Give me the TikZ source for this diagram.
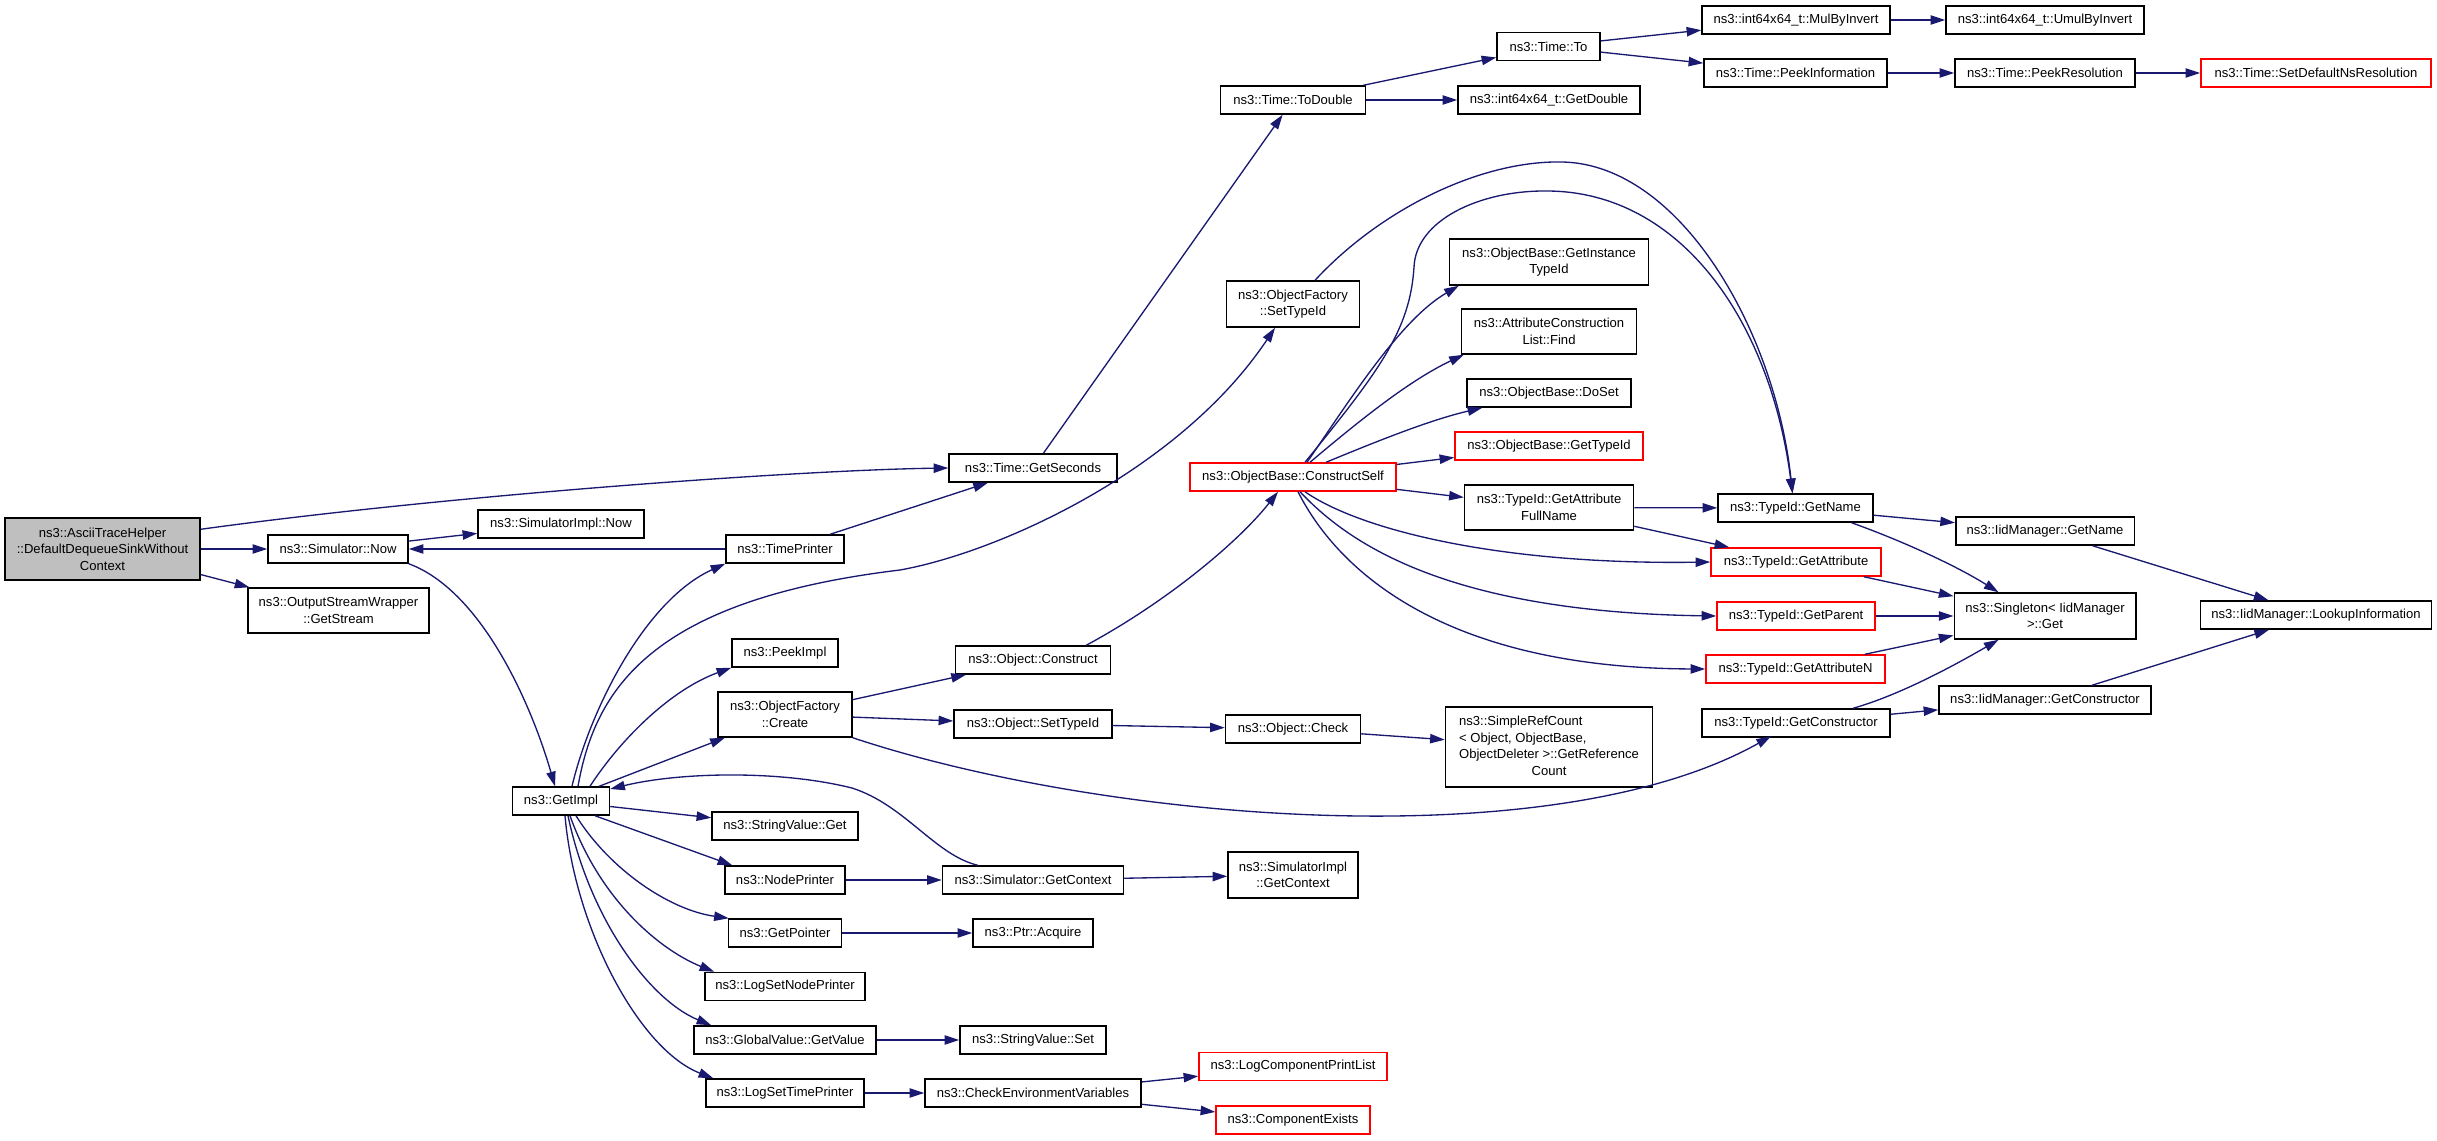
\documentclass[tikz,border=0pt]{standalone}
\usepackage{fontspec}
\setmainfont{Liberation Sans}
\usetikzlibrary{arrows.meta,calc}

\definecolor{navy}{HTML}{191970}
\definecolor{boxred}{HTML}{FF0000}
\newcommand{\fnfont}{\fontsize{9.8}{12.4}\selectfont}

\tikzstyle{func} = [shape=rectangle,draw,line width=1.1pt,inner sep=0pt,align=center,font=\fnfont]
\tikzstyle{call} = [draw=navy,line width=1pt,->,>={Triangle[length=11pt,width=7pt]}]

\begin{document}
\begin{tikzpicture}[x=0.75pt,y=-0.75pt]
  \useasboundingbox (0,0) rectangle (2437,1140);

  \foreach \nodename/\txt/\x/\y/\boxw/\boxh/\clr/\fil in {
    root/{ns3::AsciiTraceHelper\\::DefaultDequeueSinkWithout\\Context}/102.5/549/195/62/black/black!25,
    now/{ns3::Simulator::Now}/338/549/140/28/black/white,
    stream/{ns3::OutputStreamWrapper\\::GetStream}/338.5/610.5/181/45/black/white,
    simimplnow/{ns3::SimulatorImpl::Now}/561/524/166/28/black/white,
    timeprinter/{ns3::TimePrinter}/785/549/118/28/black/white,
    peekimpl/{ns3::PeekImpl}/785/653/106/28/black/white,
    create/{ns3::ObjectFactory\\::Create}/785/714.5/134/45/black/white,
    getimpl/{ns3::GetImpl}/561/801/97/28/black/white,
    strget/{ns3::StringValue::Get}/785/826/146/28/black/white,
    nodeprinter/{ns3::NodePrinter}/785/880/120/28/black/white,
    simctx/{ns3::Simulator::GetContext}/1033/880/181/28/black/white,
    simimplctx/{ns3::SimulatorImpl\\::GetContext}/1293/875/130/46/black/white,
    getpointer/{ns3::GetPointer}/785/933/113/28/black/white,
    acquire/{ns3::Ptr::Acquire}/1033/933/120/28/black/white,
    lognode/{ns3::LogSetNodePrinter}/785/986.5/160/28/black/white,
    getvalue/{ns3::GlobalValue::GetValue}/785/1040/182/28/black/white,
    strset/{ns3::StringValue::Set}/1033/1040/146/28/black/white,
    logtime/{ns3::LogSetTimePrinter}/785/1093/158/28/black/white,
    checkenv/{ns3::CheckEnvironmentVariables}/1033/1093/216/28/black/white,
    printlist/{ns3::LogComponentPrintList}/1293/1066.5/188/28/boxred/white,
    compexists/{ns3::ComponentExists}/1293/1120/154/28/boxred/white,
    getseconds/{ns3::Time::GetSeconds}/1033/468/168/28/black/white,
    todouble/{ns3::Time::ToDouble}/1293/100/145/28/black/white,
    getdouble/{ns3::int64x64\_t::GetDouble}/1549/100/182/28/black/white,
    timeto/{ns3::Time::To}/1548.5/46.5/103/28/black/white,
    mulinv/{ns3::int64x64\_t::MulByInvert}/1796/20/188/28/black/white,
    umulinv/{ns3::int64x64\_t::UmulByInvert}/2045/20/198/28/black/white,
    peekinfo/{ns3::Time::PeekInformation}/1795.5/73/183/28/black/white,
    peekres/{ns3::Time::PeekResolution}/2045/73/180/28/black/white,
    setdefault/{ns3::Time::SetDefaultNsResolution}/2316/73/230/28/boxred/white,
    settypeid/{ns3::ObjectFactory\\::SetTypeId}/1293/304/133/46/black/white,
    instancetypeid/{ns3::ObjectBase::GetInstance\\TypeId}/1549/262/199/46/black/white,
    find/{ns3::AttributeConstruction\\List::Find}/1549/331.5/175/45/black/white,
    doset/{ns3::ObjectBase::DoSet}/1549/393/164/28/black/white,
    obgettypeid/{ns3::ObjectBase::GetTypeId}/1549/446/188/28/boxred/white,
    constructself/{ns3::ObjectBase::ConstructSelf}/1293/477/206/28/boxred/white,
    fullname/{ns3::TypeId::GetAttribute\\FullName}/1549/507.5/169/45/black/white,
    getname/{ns3::TypeId::GetName}/1795.5/508/155/28/black/white,
    getattr/{ns3::TypeId::GetAttribute}/1796/562/170/28/boxred/white,
    getparent/{ns3::TypeId::GetParent}/1796/616/158/28/boxred/white,
    getattrn/{ns3::TypeId::GetAttributeN}/1795.5/669/179/28/boxred/white,
    getctor/{ns3::TypeId::GetConstructor}/1796/723/188/28/black/white,
    iidname/{ns3::IidManager::GetName}/2045/531/178.5/28/black/white,
    singleton/{ns3::Singleton< IidManager\\ >::Get}/2045/616/181.5/46/black/white,
    lookup/{ns3::IidManager::LookupInformation}/2316/615/231/28/black/white,
    iidctor/{ns3::IidManager::GetConstructor}/2045/700/212/28/black/white,
    construct/{ns3::Object::Construct}/1033/660/155/28/black/white,
    objsettypeid/{ns3::Object::SetTypeId}/1033/724/158/28/black/white,
    check/{ns3::Object::Check}/1293/729/135/28/black/white,
    refcount/{\begin{tabular}{@{}l@{}}ns3::SimpleRefCount\\< Object, ObjectBase,\\ObjectDeleter >::GetReference\\\multicolumn{1}{@{}c@{}}{Count}\end{tabular}}/1549/747/207/80/black/white}
  {
    \node[func, draw=\clr, fill=\fil, minimum width=\boxw*0.75pt, minimum height=\boxh*0.75pt] (\nodename) at (\x,\y) {\txt};
  }

  %straight calls
  \path
  \foreach \startnode/\endnode in {
    root/now, root/stream, now/simimplnow, timeprinter/now, timeprinter/getseconds,
    getseconds/todouble, todouble/timeto, todouble/getdouble, timeto/mulinv, timeto/peekinfo,
    mulinv/umulinv, peekinfo/peekres, peekres/setdefault, getimpl/create, getimpl/strget,
    nodeprinter/simctx, simctx/simimplctx, getpointer/acquire, getvalue/strset, logtime/checkenv,
    checkenv/printlist, checkenv/compexists, create/construct, create/objsettypeid,
    objsettypeid/check, check/refcount, constructself/obgettypeid, constructself/fullname,
    fullname/getname, fullname/getattr, getname/iidname, getattr/singleton, getparent/singleton,
    getattrn/singleton, getctor/iidctor, iidname/lookup, iidctor/lookup}
  {
    (\startnode) edge[call] (\endnode)
  };

  %curved calls
  \draw[call] ($(root.north east)+(0,12)$) .. controls (450,495) and (800,470) .. (getseconds.west);
  \draw[call] (now.south east) .. controls (480,590) and (530,700) .. ($(getimpl.north)+(-6,0)$);
  \draw[call] ($(getimpl.north)+(11,0)$) .. controls (590,710) and (645,600) .. (timeprinter.south west);
  \draw[call] ($(getimpl.north)+(29,0)$) .. controls (620,740) and (670,690) .. (peekimpl.south west);
  \draw[call] ($(getimpl.north)+(17,0)$) .. controls (595,690) and (650,600) .. (900,570)
    .. controls (1000,552) and (1180,470) .. ($(settypeid.south)+(-18,0)$);
  \draw[call] ($(getimpl.south)+(34,0)$) -- ($(nodeprinter.north west)+(8,0)$);
  \draw[call] ($(getimpl.south)+(15,0)$) .. controls (610,870) and (670,910) .. ($(getpointer.north west)+(1,0)$);
  \draw[call] ($(getimpl.south)+(9,0)$) .. controls (600,900) and (660,950) .. ($(lognode.north west)+(10,0)$);
  \draw[call] ($(getimpl.south)+(7,0)$) .. controls (590,920) and (650,1000) .. ($(getvalue.north west)+(18,0)$);
  \draw[call] ($(getimpl.south)+(4,0)$) .. controls (575,930) and (640,1050) .. ($(logtime.north west)+(8,0)$);
  \draw[call] ($(simctx.north west)+(36,0)$) .. controls (935,855) and (905,805) .. (852,788)
    .. controls (780,770) and (680,772) .. ($(getimpl.east)+(0,-12)$);
  \draw[call] (create.south east) .. controls (1100,820) and (1550,860) .. ($(getctor.north)+(-25,28)$);
  \draw[call] ($(construct.north east)+(-25,0)$) .. controls (1170,600) and (1240,540) .. ($(constructself.south)+(-15,0)$);
  \draw[call] ($(settypeid.north)+(22,0)$) .. controls (1380,210) and (1480,160) .. (1563,162)
    .. controls (1680,165) and (1775,330) .. ($(getname.north)+(-3,0)$);
  \draw[call] ($(constructself.north)+(12,0)$) .. controls (1380,370) and (1410,330) .. (1414,267)
    .. controls (1416,220) and (1480,190) .. (1548,191)
    .. controls (1680,192) and (1770,320) .. ($(getname.north)+(-3,0)$);
  \draw[call] ($(constructself.north)+(14,0)$) .. controls (1350,400) and (1400,320) .. ($(instancetypeid.south west)+(10,0)$);
  \draw[call] ($(constructself.north)+(17,0)$) .. controls (1360,420) and (1410,380) .. ($(find.south west)+(3,0)$);
  \draw[call] ($(constructself.north)+(33,0)$) .. controls (1380,440) and (1430,420) .. ($(doset.south west)+(16,0)$);
  \draw[call] ($(constructself.south)+(12,0)$) .. controls (1360,530) and (1500,565) .. (getattr.west);
  \draw[call] ($(constructself.south)+(7,0)$) .. controls (1350,545) and (1450,612) .. (getparent.west);
  \draw[call] ($(constructself.south)+(5,0)$) .. controls (1340,575) and (1450,668) .. (getattrn.west);
  \draw[call] ($(getname.south)+(56,0)$) .. controls (1900,540) and (1955,565) .. ($(singleton.north west)+(45,0)$);
  \draw[call] ($(getctor.north)+(57,0)$) .. controls (1900,695) and (1955,665) .. ($(singleton.south west)+(45,0)$);

\end{tikzpicture}
\end{document}
